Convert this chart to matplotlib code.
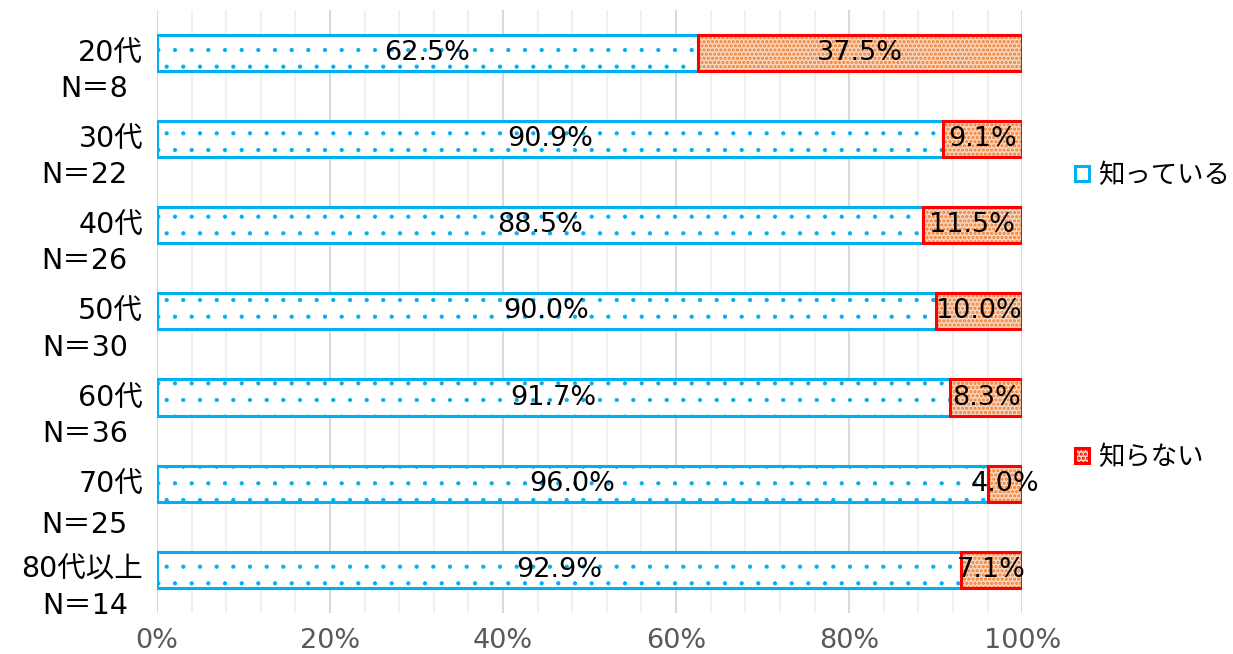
import numpy as np
import matplotlib.pyplot as plt
from matplotlib.patches import Patch
from matplotlib.ticker import MultipleLocator, PercentFormatter

plt.rcParams['font.family'] = ['DejaVu Sans', 'Noto Sans CJK JP']

# ============================================================
# DATA
# ============================================================

age_groups = ["20代", "30代", "40代", "50代", "60代", "70代", "80代以上"]
n_labels = ["N＝8", "N＝22", "N＝26", "N＝30", "N＝36", "N＝25", "N＝14"]
know = [62.5, 90.9, 88.5, 90.0, 91.7, 96.0, 92.9]
dont_know = [37.5, 9.1, 11.5, 10.0, 8.3, 4.0, 7.1]
series_names = ["知っている", "知らない"]

BLUE = "#00B0F0"
RED = "#FF0000"
ORANGE = "#ED7D31"
ORANGE_BG = "#F9D5BC"


def set_hatch_lw(bars, lw):
    for b in bars:
        if hasattr(b, "set_hatch_linewidth"):
            b.set_hatch_linewidth(lw)


# ============================================================
# PLOT
# ============================================================

fig = plt.figure(figsize=(12.33, 6.54), dpi=100)
ax = fig.add_axes([0.1273, 0.0627, 0.829 - 0.1273, 0.985 - 0.0627])

y = np.arange(len(age_groups))
h = 0.42

plt.rcParams['hatch.linewidth'] = 0.6
blue_bars = ax.barh(y, know, height=h, color="white", edgecolor=BLUE,
                    hatch=".", linewidth=2.2, zorder=3)
set_hatch_lw(blue_bars, 0.6)

plt.rcParams['hatch.linewidth'] = 1.5
# orange dotted fill first, red border drawn over it
orange_bars = ax.barh(y, dont_know, left=know, height=h, color=ORANGE_BG,
                      edgecolor=ORANGE, hatch="....", linewidth=0, zorder=3)
set_hatch_lw(orange_bars, 1.5)
ax.barh(y, dont_know, left=know, height=h, color="none", edgecolor=RED,
        linewidth=2.2, zorder=4)

for i in range(len(age_groups)):
    ax.text(know[i] / 2, y[i], f"{know[i]:.1f}%", ha="center", va="center",
            fontsize=19.5, color="black", zorder=5)
    ax.text(know[i] + dont_know[i] / 2, y[i], f"{dont_know[i]:.1f}%",
            ha="center", va="center", fontsize=19.5, color="black", zorder=5)

# category labels: first line centred on the bar, N below it
for i in range(len(age_groups)):
    ax.annotate(age_groups[i], xy=(0, y[i]), xycoords=("axes fraction", "data"),
                xytext=(-10, 0), textcoords="offset points",
                ha="right", va="center", fontsize=20.5, color="black")
    gap = 30 if i == 5 else 26
    ax.annotate(n_labels[i], xy=(0, y[i]), xycoords=("axes fraction", "data"),
                xytext=(-21, -gap), textcoords="offset points",
                ha="right", va="center", fontsize=20.5, color="black")

ax.set_xlim(0, 100)
ax.set_ylim(len(age_groups) - 0.5, -0.5)
ax.xaxis.set_major_locator(MultipleLocator(20))
ax.xaxis.set_minor_locator(MultipleLocator(4))
ax.xaxis.set_major_formatter(PercentFormatter(decimals=0))
ax.grid(axis="x", which="major", color="#D9D9D9", linewidth=1.5, zorder=0)
ax.grid(axis="x", which="minor", color="#F0F0F0", linewidth=1.5, zorder=0)
ax.set_axisbelow(True)

ax.set_yticks([])
ax.tick_params(axis="x", which="both", length=0, labelsize=19.5,
               labelcolor="#595959", pad=11)
for s in ax.spines.values():
    s.set_visible(False)

handles = [
    Patch(facecolor="white", edgecolor=BLUE, linewidth=2.2),
    Patch(facecolor=ORANGE_BG, edgecolor=RED, hatch="....", linewidth=2.2),
]
fig.legend(handles, series_names, loc="upper left",
           bbox_to_anchor=(0.853, 0.787), frameon=False, fontsize=19,
           handlelength=0.5, handleheight=0.5, handletextpad=0.35,
           labelspacing=9.7)

fig.savefig("out.png", dpi=100)
